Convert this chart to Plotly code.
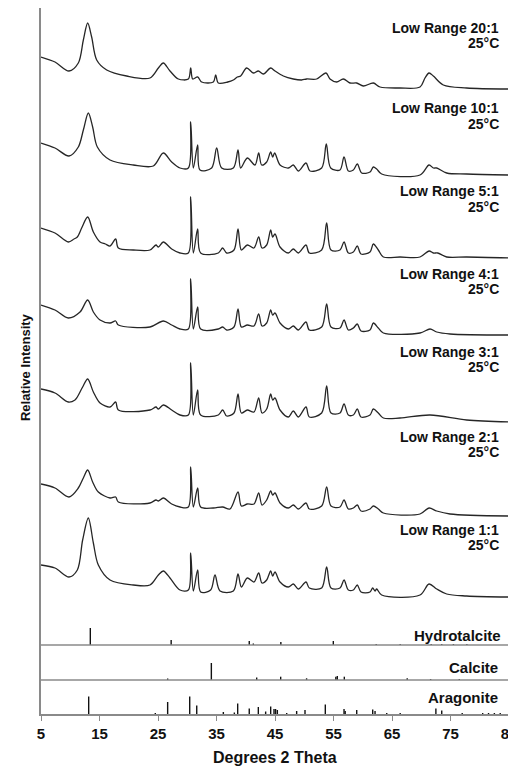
import plotly.graph_objects as go

# ---------------- data (2-theta in degrees, displayed stacked intensity) ----------------
labels = ["Low Range 20:1", "Low Range 10:1", "Low Range 5:1", "Low Range 4:1",
          "Low Range 3:1", "Low Range 2:1", "Low Range 1:1"]
temp_label = "25°C"

x_20 = [5.0, 7.39, 9.79, 11.38, 12.24, 12.98, 13.66, 14.52, 16.23, 19.64, 23.63, 25.06, 25.91, 27.05, 28.48,
        30.19, 30.59, 30.93, 31.78, 32.46, 34.46, 34.86, 35.31, 36.91, 37.88, 38.56, 39.13, 40.16, 41.3, 42.15,
        43.01, 44.26, 45.0, 46.42, 48.13, 49.56, 50.41, 52.12, 53.72, 54.4, 55.54, 56.68, 57.82, 58.96, 60.1,
        61.81, 62.95, 66.37, 69.79, 70.64, 71.33, 72.07, 73.77, 77.76, 85.0]
y_20 = [657, 652, 643, 651, 674, 691, 677, 654, 644, 638, 636, 646, 651, 643, 635,
        635, 646, 635, 637, 632, 632, 639, 631, 632, 634, 637, 638, 646, 641, 643,
        640, 646, 643, 638, 635, 634, 635, 635, 641, 635, 632, 635, 631, 631, 628,
        631, 627, 626, 627, 636, 641, 638, 629, 626, 625]

x_10 = [5.0, 7.39, 9.79, 11.38, 12.24, 13.09, 13.83, 14.63, 16.80, 20.78, 24.20, 25.91, 27.34, 28.76, 30.19,
        30.59, 31.04, 31.78, 32.18, 34.17, 35.03, 35.88, 37.88, 38.68, 39.13, 40.27, 41.58, 42.21, 42.72, 43.58,
        44.26, 44.60, 44.94, 45.86, 47.28, 48.13, 48.99, 50.30, 50.98, 52.98, 53.77, 54.52, 56.11, 56.80, 57.54,
        58.39, 59.07, 59.82, 61.24, 61.81, 62.38, 63.23, 69.79, 71.33, 72.07, 72.64, 74.35, 77.76, 85.0]
y_10 = [571, 566, 558, 567, 584, 601, 587, 567, 554, 549, 548, 561, 552, 546, 546,
        592, 546, 569, 544, 546, 566, 546, 546, 564, 546, 556, 549, 561, 549, 552,
        562, 557, 561, 549, 546, 549, 543, 551, 543, 546, 570, 546, 544, 557, 543,
        544, 550, 541, 542, 547, 545, 540, 539, 549, 546, 546, 541, 540, 539]

x_5 = [5.0, 7.39, 9.67, 10.64, 11.21, 11.95, 12.98, 13.95, 15.09, 16.0, 16.80, 17.76, 18.22, 20.78, 23.63,
       24.66, 25.06, 25.91, 27.34, 28.76, 30.19, 30.59, 31.04, 31.78, 32.29, 35.31, 36.05, 36.74, 37.99, 38.68,
       39.25, 40.27, 41.41, 42.21, 42.78, 43.58, 44.26, 44.60, 45.0, 45.86, 47.28, 48.13, 48.99, 50.30, 50.87,
       52.98, 53.83, 54.57, 56.11, 56.80, 57.54, 58.39, 59.07, 59.70, 61.24, 61.81, 62.66, 63.52, 66.37, 69.79,
       71.33, 72.07, 72.81, 74.35, 77.76, 85.0]
y_5 = [486, 481, 472, 475, 477, 486, 497, 482, 472, 470, 468, 475, 466, 464, 464,
       469, 467, 472, 465, 461, 461, 517, 461, 485, 461, 461, 466, 461, 464, 485,
       464, 469, 466, 477, 466, 469, 484, 477, 480, 467, 461, 465, 461, 469, 461,
       464, 491, 464, 464, 472, 461, 462, 468, 460, 462, 470, 464, 457, 457, 457,
       463, 461, 461, 457, 457, 456]

x_4 = [5.0, 7.39, 9.67, 11.67, 12.98, 13.95, 15.09, 16.80, 17.76, 18.22, 23.63, 25.91, 27.34, 28.76, 30.19,
       30.59, 31.04, 31.78, 32.29, 35.31, 36.05, 36.74, 37.99, 38.68, 39.25, 40.27, 41.41, 42.21, 42.78, 43.58,
       44.26, 44.60, 45.0, 45.86, 47.28, 48.13, 48.99, 50.30, 50.87, 52.98, 53.83, 54.57, 56.11, 56.80, 57.54,
       58.39, 59.07, 59.70, 61.24, 61.81, 62.66, 63.52, 69.79, 71.50, 72.64, 74.92, 85.0]
y_4 = [409, 404, 396, 402, 414, 402, 394, 391, 393, 389, 387, 393, 389, 385, 385,
       435, 385, 407, 385, 385, 387, 384, 387, 405, 387, 389, 388, 400, 388, 391,
       404, 399, 401, 391, 385, 388, 384, 392, 384, 387, 410, 387, 386, 394, 384,
       386, 390, 383, 384, 391, 386, 381, 381, 385, 382, 380, 379]

x_3 = [5.0, 7.39, 9.67, 10.81, 11.21, 12.12, 12.98, 13.95, 15.09, 16.80, 17.76, 18.22, 23.63, 24.66, 25.06,
       25.91, 27.34, 28.76, 30.19, 30.59, 31.04, 31.78, 32.29, 35.31, 36.05, 36.74, 37.99, 38.68, 39.25, 40.27,
       41.41, 42.21, 42.78, 43.58, 44.26, 44.60, 45.0, 45.86, 47.28, 48.13, 48.99, 50.30, 50.87, 52.98, 53.83,
       54.57, 56.11, 56.80, 57.54, 58.39, 59.07, 59.70, 61.24, 61.81, 62.66, 63.52, 66.37, 71.50, 77.76, 85.0]
y_3 = [325, 321, 312, 314, 317, 327, 335, 322, 311, 307, 312, 304, 304, 307, 305,
       309, 304, 299, 299, 351, 299, 324, 299, 299, 304, 298, 301, 320, 301, 304,
       302, 316, 301, 305, 320, 314, 316, 304, 297, 303, 297, 307, 297, 301, 328,
       301, 301, 310, 299, 299, 305, 297, 299, 305, 301, 296, 296, 299, 294, 292]

x_2 = [5.0, 7.39, 9.79, 11.38, 12.24, 12.98, 13.83, 14.80, 16.80, 17.76, 18.22, 23.63, 24.66, 25.06, 25.91,
       27.34, 28.76, 30.19, 30.59, 31.04, 31.78, 32.29, 34.46, 36.05, 37.31, 38.68, 39.25, 40.27, 41.41, 42.21,
       42.78, 43.58, 44.26, 44.60, 45.0, 45.86, 47.28, 48.13, 48.99, 50.30, 50.87, 52.98, 53.83, 54.57, 56.11,
       56.80, 57.54, 58.39, 59.07, 59.70, 61.24, 61.81, 62.66, 63.52, 69.79, 71.33, 72.64, 74.92, 85.0]
y_2 = [230, 226, 217, 226, 236, 244, 232, 222, 216, 217, 212, 211, 214, 213, 216,
       210, 207, 207, 247, 207, 226, 207, 206, 207, 205, 222, 208, 210, 210, 221,
       209, 214, 223, 219, 221, 211, 206, 209, 205, 211, 205, 208, 227, 208, 207,
       214, 205, 206, 209, 203, 205, 208, 205, 201, 200, 206, 203, 200, 198]

x_1 = [5.0, 7.39, 9.79, 11.21, 12.12, 13.09, 13.95, 14.80, 16.80, 20.78, 23.63, 25.06, 25.91, 27.05, 28.76,
       30.19, 30.59, 31.04, 31.78, 32.29, 34.0, 34.74, 35.6, 37.88, 38.68, 39.25, 40.27, 41.41, 42.21, 42.78,
       43.58, 44.26, 44.60, 45.0, 45.86, 47.28, 48.13, 48.99, 50.30, 50.87, 52.98, 53.83, 54.57, 56.11, 56.80,
       57.54, 58.39, 59.07, 59.70, 61.24, 61.70, 62.09, 62.38, 63.23, 69.79, 71.33, 72.64, 74.35, 77.76, 85.0]
y_1 = [149, 146, 137, 144, 174, 196, 171, 149, 134, 129, 129, 139, 143, 136, 124,
       124, 161, 123, 144, 122, 124, 139, 123, 123, 140, 127, 136, 132, 141, 131,
       134, 143, 138, 142, 132, 127, 130, 125, 132, 126, 126, 147, 126, 126, 134,
       124, 124, 129, 122, 122, 126, 123, 125, 119, 119, 130, 125, 120, 118, 117]

sample_x = [x_20, x_10, x_5, x_4, x_3, x_2, x_1]
sample_y = [y_20, y_10, y_5, y_4, y_3, y_2, y_1]
label_y = [686, 606, 523, 440, 362, 277, 184]     # first label line
temp_y = [671, 590, 507, 425, 347, 262, 169]      # second label line

# reference stick patterns
ref_names = ["Hydrotalcite", "Calcite", "Aragonite"]
hydro_pos = [13.43, 27.25, 40.6, 41.3, 46.0, 54.97, 62.3, 66.4, 71.7, 73.5, 75.5, 77.8]
hydro_h = [17, 5, 4, 1.5, 3, 4, 1, 1, 1, 1, 1, 1]
calc_pos = [26.65, 34.12, 41.87, 45.97, 50.4, 55.4, 55.65, 56.85, 67.6, 71.6, 76.5]
calc_h = [1.5, 17, 2.5, 3.3, 1.7, 3.3, 4, 3.3, 1.7, 1, 1]
arag_pos = [13.15, 24.54, 26.65, 30.42, 31.62, 36.17, 38.05, 38.62, 40.6, 42.15, 43.4, 44.26, 44.83, 45.1,
            45.4, 47.0, 48.7, 50.13, 53.6, 56.8, 57.0, 58.97, 61.7, 62.1, 64.1, 66.4, 72.5, 73.5, 77.0,
            80.5, 81.5, 82.5, 83.5]
arag_h = [17.5, 1, 12, 17.5, 8.5, 2, 1.5, 10.5, 5.5, 7, 2.5, 7.5, 5, 5,
          4, 1, 3, 4, 9.5, 5, 3, 4, 4.5, 3, 1, 1, 5.5, 3.5, 1,
          1, 1, 1, 1]
ref_pos = [hydro_pos, calc_pos, arag_pos]
ref_h = [hydro_h, calc_h, arag_h]
ref_base = [69, 34, 0]
ref_label_y = [79, 47, 17]

x_ticks = [5, 15, 25, 35, 45, 55, 65, 75, 85]

# ---------------- figure ----------------
FONT = "Arial, 'Liberation Sans', sans-serif"
fig = go.Figure()

for xs, ys in zip(sample_x, sample_y):
    fig.add_trace(go.Scatter(x=xs, y=ys, mode="lines",
                             line=dict(color="#262626", width=1.3, shape="spline", smoothing=0.9),
                             hoverinfo="skip", showlegend=False))

for pos, hs, base in zip(ref_pos, ref_h, ref_base):
    sx, sy = [], []
    for p, h in zip(pos, hs):
        sx += [p, p, None]
        sy += [base, base + h, None]
    fig.add_trace(go.Scatter(x=sx, y=sy, mode="lines", line=dict(color="#111111", width=1.4),
                             hoverinfo="skip", showlegend=False))

# separator lines for reference panels
for base in ref_base[:2]:
    fig.add_shape(type="line", xref="paper", x0=0, x1=1, yref="y", y0=base, y1=base,
                  line=dict(color="#8a8a8a", width=1.5))

ann_font = dict(family=FONT, size=14, color="#111111")
for lab, ly, ty in zip(labels, label_y, temp_y):
    fig.add_annotation(x=0.983, xref="paper", y=ly, yref="y", text="<b>%s</b>" % lab,
                       showarrow=False, xanchor="right", yanchor="middle", font=ann_font)
    fig.add_annotation(x=0.983, xref="paper", y=ty, yref="y", text="<b>%s</b>" % temp_label,
                       showarrow=False, xanchor="right", yanchor="middle", font=ann_font)

for name, ly, xr in zip(ref_names, ref_label_y, [0.987, 0.981, 0.981]):
    fig.add_annotation(x=xr, xref="paper", y=ly, yref="y", text="<b>%s</b>" % name,
                       showarrow=False, xanchor="right", yanchor="middle",
                       font=dict(family=FONT, size=15, color="#111111"))

fig.add_annotation(x=-0.034, xref="paper", y=0.4915, yref="paper", text="<b>Relative Intensity</b>",
                   textangle=-90, showarrow=False, xanchor="center", yanchor="middle",
                   font=dict(family=FONT, size=13, color="#111111"))
fig.add_annotation(x=0.5, xref="paper", y=-0.061, yref="paper", text="<b>Degrees 2 Theta</b>",
                   showarrow=False, xanchor="center", yanchor="middle",
                   font=dict(family=FONT, size=16, color="#111111"))

fig.update_xaxes(range=[5, 85], tickvals=x_ticks, ticktext=["<b>%d</b>" % t for t in x_ticks],
                 showline=True, linecolor="#8a8a8a", linewidth=1.5, ticks="outside", ticklen=5,
                 tickcolor="#8a8a8a", tickwidth=1, showgrid=False, zeroline=False, automargin=False,
                 ticklabeloverflow="allow",
                 tickfont=dict(family=FONT, size=15, color="#111111"))
fig.update_yaxes(range=[0, 706], showline=True, linecolor="#8a8a8a", linewidth=1.5, automargin=False,
                 showticklabels=False, ticks="", showgrid=False, zeroline=False)

# the page body has an 8px margin, so the figure is sized and offset to compensate
fig.update_layout(width=508, height=759, margin=dict(l=33, r=7, t=0, b=53),
                  plot_bgcolor="white", paper_bgcolor="white", showlegend=False)

fig.write_html("out.html")
